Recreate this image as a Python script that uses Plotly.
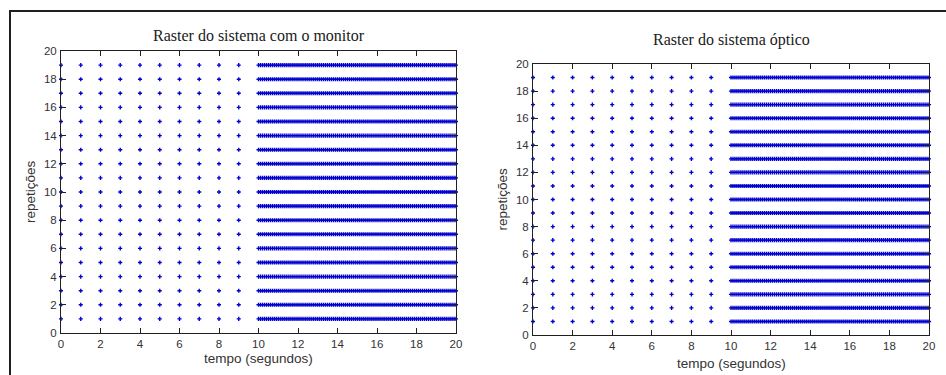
import plotly.graph_objects as go

# Spike times (s): one spike per second up to 9 s, then every 0.1 s from 10 s to 20 s
sparse_times = [0, 1, 2, 3, 4, 5, 6, 7, 8, 9]
dense_times = [
    10.0, 10.1, 10.2, 10.3, 10.4, 10.5, 10.6, 10.7, 10.8, 10.9,
    11.0, 11.1, 11.2, 11.3, 11.4, 11.5, 11.6, 11.7, 11.8, 11.9,
    12.0, 12.1, 12.2, 12.3, 12.4, 12.5, 12.6, 12.7, 12.8, 12.9,
    13.0, 13.1, 13.2, 13.3, 13.4, 13.5, 13.6, 13.7, 13.8, 13.9,
    14.0, 14.1, 14.2, 14.3, 14.4, 14.5, 14.6, 14.7, 14.8, 14.9,
    15.0, 15.1, 15.2, 15.3, 15.4, 15.5, 15.6, 15.7, 15.8, 15.9,
    16.0, 16.1, 16.2, 16.3, 16.4, 16.5, 16.6, 16.7, 16.8, 16.9,
    17.0, 17.1, 17.2, 17.3, 17.4, 17.5, 17.6, 17.7, 17.8, 17.9,
    18.0, 18.1, 18.2, 18.3, 18.4, 18.5, 18.6, 18.7, 18.8, 18.9,
    19.0, 19.1, 19.2, 19.3, 19.4, 19.5, 19.6, 19.7, 19.8, 19.9,
    20.0,
]
repetitions = [1, 2, 3, 4, 5, 6, 7, 8, 9, 10, 11, 12, 13, 14, 15, 16, 17, 18, 19]

titles = ["Raster do sistema com o monitor", "Raster do sistema óptico"]
x_label = "tempo (segundos)"
y_label = "repetições"
tick_vals = [0, 2, 4, 6, 8, 10, 12, 14, 16, 18, 20]

W, H = 946, 375
spike_times = sparse_times + dense_times

fig = go.Figure()
for i in range(2):
    xs, ys = [], []
    for r in repetitions:
        xs.extend(spike_times)
        ys.extend([r] * len(spike_times))
    fig.add_trace(go.Scatter(
        x=xs, y=ys, mode="markers",
        marker=dict(color="#0000d0", size=3.4, symbol="cross", line=dict(width=0)),
        xaxis="x" if i == 0 else "x2",
        yaxis="y" if i == 0 else "y2",
        showlegend=False, cliponaxis=False, hoverinfo="skip",
    ))

# pixel boxes of the two axes: (left, right, top, bottom)
boxes = [(61, 456, 51, 333), (533, 929, 64, 335)]
# pixel rows of the titles and x-axis labels
title_rows = [36, 40]
xlabel_rows = [358, 363]

axis_common = dict(
    range=[0, 20], showline=True, linecolor="#202020", linewidth=1,
    mirror="ticks", ticks="inside", ticklen=5, tickcolor="#202020",
    showgrid=False, zeroline=False, tickvals=tick_vals, automargin=False,
    tickfont=dict(family="Liberation Sans, Arial", size=11.5, color="#333333"),
    fixedrange=True,
)

layout = dict(
    width=W, height=H, margin=dict(l=0, r=0, t=0, b=0, autoexpand=False),
    paper_bgcolor="white", plot_bgcolor="white", showlegend=False,
)
annotations = []
for i, (l, r, t, b) in enumerate(boxes):
    sx = "" if i == 0 else "2"
    layout["xaxis" + sx] = dict(
        axis_common, domain=[l / W, r / W],
        anchor="y" + sx, ticklabelstandoff=0,
    )
    layout["yaxis" + sx] = dict(
        axis_common, domain=[1 - b / H, 1 - t / H],
        anchor="x" + sx, ticklabelstandoff=1,
    )
    cx = (l + r) / 2 / W
    annotations.append(dict(
        text=titles[i], x=cx, y=1 - title_rows[i] / H, xref="paper", yref="paper",
        showarrow=False, xanchor="center", yanchor="middle",
        font=dict(family="Liberation Serif, Times New Roman", size=16, color="#202020"),
    ))
    annotations.append(dict(
        text=x_label, x=cx, y=1 - xlabel_rows[i] / H, xref="paper", yref="paper",
        showarrow=False, xanchor="center", yanchor="middle",
        font=dict(family="Liberation Sans, Arial", size=13.5, color="#333333"),
    ))
    annotations.append(dict(
        text=y_label, x=(l - 31) / W, y=1 - (t + b) / 2 / H, xref="paper", yref="paper",
        showarrow=False, xanchor="center", yanchor="middle", textangle=-90,
        font=dict(family="Liberation Sans, Arial", size=13.5, color="#333333"),
    ))
layout["annotations"] = annotations

# outer frame around the figure (left and top edges)
layout["shapes"] = [
    dict(type="line", xref="paper", yref="paper", x0=10 / W, x1=10 / W,
         y0=0, y1=1 - 10 / H, line=dict(color="#202020", width=2)),
    dict(type="line", xref="paper", yref="paper", x0=10 / W, x1=1,
         y0=1 - 11 / H, y1=1 - 11 / H, line=dict(color="#202020", width=2)),
]

fig.update_layout(**layout)
fig.write_html("out.html")
